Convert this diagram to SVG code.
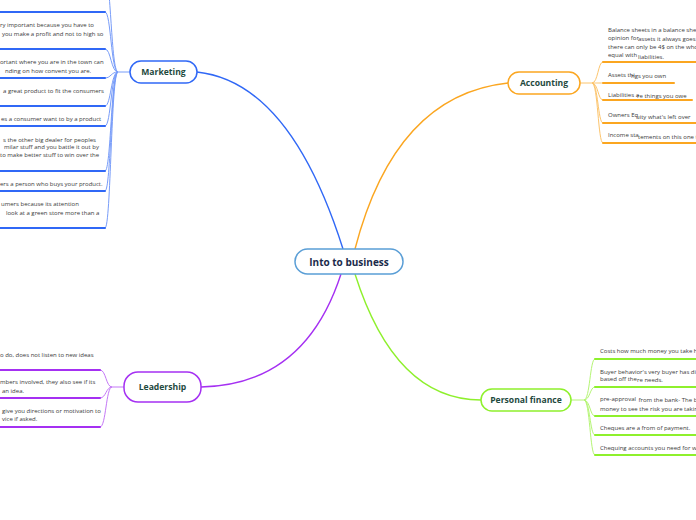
<svg xmlns="http://www.w3.org/2000/svg" width="696" height="520" viewBox="0 0 696 520">
<style>
.t{font-family:"Open Sans","Noto Sans","Liberation Sans",sans-serif;font-size:6px;fill:#3a3a3a}
.n{font-family:"Open Sans","Noto Sans","Liberation Sans",sans-serif;font-size:8.6px;font-weight:bold;fill:#1f4a3e;text-anchor:middle}
.c{font-family:"Open Sans","Noto Sans","Liberation Sans",sans-serif;font-size:10px;font-weight:bold;fill:#1b2b4b;text-anchor:middle}
.bl{stroke:#3068f6}
.or{stroke:#fba620}
.gr{stroke:#8ef02c}
.pu{stroke:#a530f2}
.ul{stroke-width:2;fill:none;stroke-linecap:round}
.sc{stroke-width:1;fill:none;opacity:0.65}
.mc{stroke-width:1.4;fill:none}
.box{fill:#fff;stroke-width:1.5}
</style>
<rect width="696" height="520" fill="#fff"/>
<g id="connectors">
<path class="mc bl" d="M197,72 Q290,82 343,249"/>
<path class="mc or" d="M355,249 Q395,95 508,83"/>
<path class="mc pu" d="M341,274 Q305,385 201,387"/>
<path class="mc gr" d="M355,274 Q395,400 481,400"/>
<g class="sc bl">
<path d="M130,72 L118,72"/>
<path d="M118,72 C111,72 111,-25 105,-25"/>
<path d="M118,72 C111,72 111,12 105,12"/>
<path d="M118,72 C111,72 111,49 105,49"/>
<path d="M118,72 C111,72 111,78 105,78"/>
<path d="M118,72 C111,72 111,106 105,106"/>
<path d="M118,72 C111,72 111,126 105,126"/>
<path d="M118,72 C111,72 111,171 105,171"/>
<path d="M118,72 C111,72 111,191 105,191"/>
<path d="M118,72 C111,72 111,228 105,228"/>
</g>
<g class="sc or">
<path d="M580,83 L592,83"/>
<path d="M592,83 C598,83 598,62 603,62"/>
<path d="M592,83 C598,83 598,83 603,83"/>
<path d="M592,83 C598,83 598,100 603,100"/>
<path d="M592,83 C598,83 598,123 603,123"/>
<path d="M592,83 C598,83 598,143 603,143"/>
</g>
<g class="sc gr">
<path d="M571,400 L584,400"/>
<path d="M584,400 C590,400 590,359 595,359"/>
<path d="M584,400 C590,400 590,387 595,387"/>
<path d="M584,400 C590,400 590,416 595,416"/>
<path d="M584,400 C590,400 590,435 595,435"/>
<path d="M584,400 C590,400 590,455 595,455"/>
</g>
<g class="sc pu">
<path d="M124,387 L112,387"/>
<path d="M112,387 C106,387 106,370 100,370"/>
<path d="M112,387 C106,387 106,398 100,398"/>
<path d="M112,387 C106,387 106,427 100,427"/>
</g>
</g>
<g id="central">
<rect class="box" x="295" y="249" width="108" height="25" rx="12.5" stroke="#5a9ed6"/>
<text class="c" x="349" y="265.5">Into to business</text>
</g>
<g id="marketing">
<rect class="box bl" x="130" y="61" width="67" height="22" rx="11"/>
<text class="n" x="163.5" y="75">Marketing</text>
</g>
<g id="accounting">
<rect class="box or" x="508" y="72" width="72" height="22" rx="11"/>
<text class="n" x="544" y="86">Accounting</text>
</g>
<g id="personal-finance">
<rect class="box gr" x="481" y="389" width="90" height="22" rx="11"/>
<text class="n" x="526" y="403">Personal finance</text>
</g>
<g id="leadership">
<rect class="box pu" x="124" y="372" width="77" height="30" rx="14"/>
<text class="n" x="162.5" y="390">Leadership</text>
</g>
<g id="m0"><line class="ul bl" x1="-5" y1="-25" x2="105" y2="-25"/></g>
<g id="m1"><line class="ul bl" x1="-5" y1="12" x2="105" y2="12"/></g>
<g id="m2">
<line class="ul bl" x1="-5" y1="49" x2="105" y2="49"/>
<text class="t" x="0" y="26.5">ry important because you have to</text>
<text class="t" x="2" y="35.5">you make a profit and not to high so</text>
</g>
<g id="m3">
<line class="ul bl" x1="-5" y1="78" x2="105" y2="78"/>
<text class="t" x="0" y="64">ortant where you are in the town can</text>
<text class="t" x="5" y="72.5">nding on how convent you are.</text>
</g>
<g id="m4">
<line class="ul bl" x1="-5" y1="106" x2="105" y2="106"/>
<text class="t" x="3" y="92.5">a great product to fit the consumers</text>
</g>
<g id="m5">
<line class="ul bl" x1="-5" y1="126" x2="105" y2="126"/>
<text class="t" x="1" y="120.5">es a consumer want to by a product</text>
</g>
<g id="m6">
<line class="ul bl" x1="-5" y1="171" x2="105" y2="171"/>
<text class="t" x="3" y="141.5">s the other big dealer for peoples</text>
<text class="t" x="4" y="149">milar stuff and you battle it out by</text>
<text class="t" x="0" y="157">to make better stuff to win over the</text>
</g>
<g id="m7">
<line class="ul bl" x1="-5" y1="191" x2="105" y2="191"/>
<text class="t" x="0" y="185.5">ers a person who buys your product.</text>
</g>
<g id="m8">
<line class="ul bl" x1="-5" y1="228" x2="105" y2="228"/>
<text class="t" x="1" y="205.5">umers because its attention</text>
<text class="t" x="6" y="215">look at a green store more than a</text>
</g>
<g id="a1">
<line class="ul or" x1="603" y1="62" x2="700" y2="62"/>
<text class="t" x="608" y="31.5">Balance sheets in a balance she</text>
<text class="t" x="608" y="39.5">opinion for</text><text class="t" x="638" y="41">assets it always goes</text>
<text class="t" x="608" y="49">there can only be 4$ on the who</text>
<text class="t" x="608" y="57">equal with</text><text class="t" x="638" y="58.5">liabilities.</text>
</g>
<g id="a2">
<line class="ul or" x1="603" y1="83" x2="674" y2="83"/>
<text class="t" x="608" y="77">Assets thi</text><text class="t" x="631" y="78.3">ngs you own</text>
</g>
<g id="a3">
<line class="ul or" x1="603" y1="100" x2="692" y2="100"/>
<text class="t" x="608" y="96.5">Liabilities a</text><text class="t" x="637" y="97.8">re things you owe</text>
</g>
<g id="a4">
<line class="ul or" x1="603" y1="123" x2="700" y2="123"/>
<text class="t" x="608" y="117">Owners Eq</text><text class="t" x="636" y="118.5">uity what's left over</text>
</g>
<g id="a5">
<line class="ul or" x1="603" y1="143" x2="700" y2="143"/>
<text class="t" x="608" y="137">Income sta</text><text class="t" x="638" y="138.5">tements on this one t</text>
</g>
<g id="p1">
<line class="ul gr" x1="595" y1="359" x2="700" y2="359"/>
<text class="t" x="600" y="353">Costs how much money you take h</text>
</g>
<g id="p2">
<line class="ul gr" x1="595" y1="387" x2="700" y2="387"/>
<text class="t" x="600" y="373.5">Buyer behavior's very buyer has di</text>
<text class="t" x="600" y="380.5">based off the</text><text class="t" x="637" y="382.3">re needs.</text>
</g>
<g id="p3">
<line class="ul gr" x1="595" y1="416" x2="700" y2="416"/>
<text class="t" x="600" y="401">pre-approval</text><text class="t" x="638.5" y="402.3">from the bank- The b</text>
<text class="t" x="600" y="411.3">money to see the risk you are takin</text>
</g>
<g id="p4">
<line class="ul gr" x1="595" y1="435" x2="700" y2="435"/>
<text class="t" x="600" y="430.3">Cheques are a from of payment.</text>
</g>
<g id="p5">
<line class="ul gr" x1="595" y1="455" x2="700" y2="455"/>
<text class="t" x="600" y="450">Chequing accounts you need for w</text>
</g>
<g id="l1">
<line class="ul pu" x1="-5" y1="370" x2="100" y2="370"/>
<text class="t" x="0" y="356.5">o do, does not listen to new ideas</text>
</g>
<g id="l2">
<line class="ul pu" x1="-5" y1="398" x2="100" y2="398"/>
<text class="t" x="0" y="384">mbers involved, they also see if its</text>
<text class="t" x="2" y="393">an idea.</text>
</g>
<g id="l3">
<line class="ul pu" x1="-5" y1="427" x2="100" y2="427"/>
<text class="t" x="2" y="413">give you directions or motivation to</text>
<text class="t" x="2" y="420.7">vice if asked.</text>
</g>
</svg>
